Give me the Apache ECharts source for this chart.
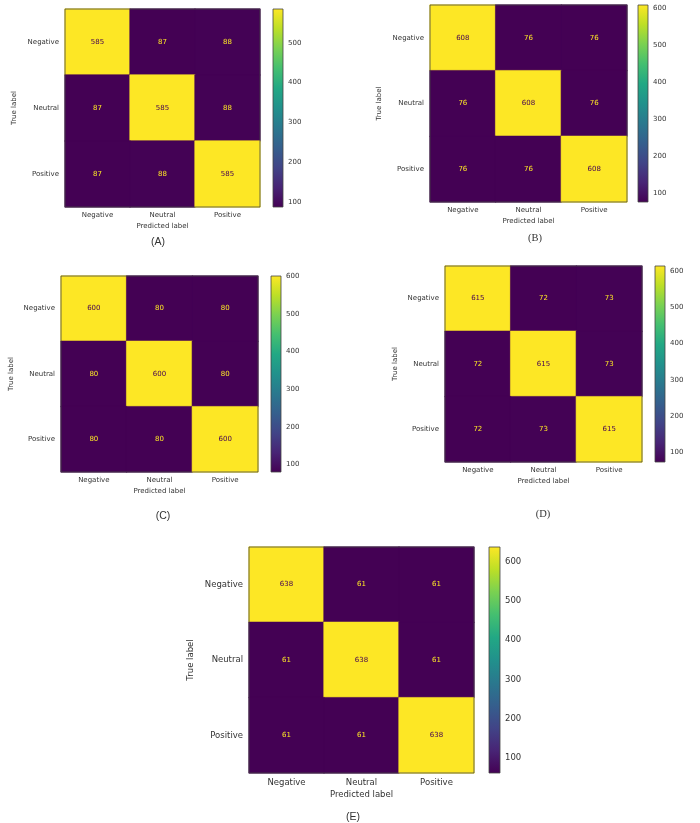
<!DOCTYPE html>
<html>
<head>
<meta charset="utf-8">
<script src="https://cdn.jsdelivr.net/npm/echarts@6/dist/echarts.min.js"></script>
<style>
html,body{margin:0;padding:0;background:#fff}
#main{width:700px;height:823px}
</style>
</head>
<body>
<div id="main"></div>
<script>
// class labels (rows = true, columns = predicted)
const classes = ['Negative', 'Neutral', 'Positive']

// confusion matrices, row = true label
const matA = [[585, 87, 88], [87, 585, 88], [87, 88, 585]]
const matB = [[608, 76, 76], [76, 608, 76], [76, 76, 608]]
const matC = [[600, 80, 80], [80, 600, 80], [80, 80, 600]]
const matD = [[615, 72, 73], [72, 615, 73], [72, 73, 615]]
const matE = [[638, 61, 61], [61, 638, 61], [61, 61, 638]]

const captions = ['(A)', '(B)', '(C)', '(D)', '(E)']

// colorbar tick labels
const ticksA = [100, 200, 300, 400, 500]
const ticksB = [100, 200, 300, 400, 500, 600]
const ticksC = [100, 200, 300, 400, 500, 600]
const ticksD = [100, 200, 300, 400, 500, 600]
const ticksE = [100, 200, 300, 400, 500, 600]

const mats = [matA, matB, matC, matD, matE]
const ticks = [ticksA, ticksB, ticksC, ticksD, ticksE]

// layout of each panel (pixels)
const layout = [
  {x: 65, y: 9, w: 195, h: 198, cbx: 273, cbw: 10, font: 7, num: 7, cap: [158, 243], capFont: 'Liberation Sans', yGap: 47},
  {x: 430, y: 5, w: 197, h: 197, cbx: 638, cbw: 10, font: 7, num: 7, cap: [535, 239], capFont: 'Liberation Serif', yGap: 47},
  {x: 61, y: 276, w: 197, h: 196, cbx: 271, cbw: 10, font: 7, num: 7, cap: [163, 517], capFont: 'Liberation Sans', yGap: 46},
  {x: 445, y: 266, w: 197, h: 196, cbx: 655, cbw: 10, font: 7, num: 7, cap: [543, 515], capFont: 'Liberation Serif', yGap: 46},
  {x: 249, y: 547, w: 225, h: 226, cbx: 489, cbw: 11, font: 8.5, num: 7, cap: [353, 818], capFont: 'Liberation Sans', yGap: 54}
]

const viridis = ['#440154', '#482475', '#414487', '#355f8d', '#2a788e', '#21918c',
  '#22a884', '#44bf70', '#7ad151', '#bddf26', '#fde725']
const txt = '#333'
const ff = 'DejaVu Sans'

let grid = [], xAxis = [], yAxis = [], series = [], visualMap = [], title = []

mats.forEach((m, i) => {
  const L = layout[i]
  const flat = [].concat(...m)
  const vmin = Math.min(...flat), vmax = Math.max(...flat)
  const mid = (vmin + vmax) / 2

  grid.push({left: L.x, top: L.y, width: L.w, height: L.h, show: true, backgroundColor: viridis[0], borderWidth: 0})
  grid.push({left: L.cbx, top: L.y, width: L.cbw, height: L.h})

  xAxis.push({
    type: 'category', data: classes, gridIndex: 2 * i,
    name: 'Predicted label', nameLocation: 'middle', nameGap: L.font + 9,
    nameTextStyle: {fontSize: L.font, color: txt, fontFamily: ff},
    axisLine: {show: false},
    axisTick: {alignWithLabel: true, length: 3, lineStyle: {color: txt}},
    axisLabel: {fontSize: L.font, color: txt, fontFamily: ff, margin: 5},
    splitLine: {show: false}
  })
  xAxis.push({type: 'value', gridIndex: 2 * i + 1, min: 0, max: 1, show: false})

  yAxis.push({
    type: 'category', data: classes, gridIndex: 2 * i, inverse: true,
    name: 'True label', nameLocation: 'middle', nameGap: L.yGap, nameRotate: 90,
    nameTextStyle: {fontSize: L.font, color: txt, fontFamily: ff},
    axisLine: {show: false},
    axisTick: {alignWithLabel: true, length: 3, lineStyle: {color: txt}},
    axisLabel: {fontSize: L.font, color: txt, fontFamily: ff, margin: 6},
    splitLine: {show: false}
  })
  yAxis.push({
    type: 'value', gridIndex: 2 * i + 1, position: 'right', min: vmin, max: vmax,
    axisLine: {show: false},
    axisTick: {show: true, length: 3, customValues: ticks[i], lineStyle: {color: txt}},
    axisLabel: {fontSize: L.font, color: txt, fontFamily: ff, margin: 5, customValues: ticks[i]},
    splitLine: {show: false}
  })

  const data = []
  m.forEach((row, r) => row.forEach((v, c) => {
    // border in the cell's own colour closes the antialias seams
    const col = echarts.color.lerp((v - vmin) / (vmax - vmin), viridis)
    data.push({
      value: [c, r, v],
      label: {color: v < mid ? viridis[10] : viridis[0]},
      itemStyle: {borderColor: col, borderWidth: 0.6}
    })
  }))

  visualMap.push({
    show: false, type: 'continuous', min: vmin, max: vmax, dimension: 2,
    seriesIndex: series.length, inRange: {color: viridis}
  })
  series.push({
    type: 'heatmap', xAxisIndex: 2 * i, yAxisIndex: 2 * i, data: data,
    label: {show: true, fontSize: L.num, fontFamily: ff},
    emphasis: {disabled: true}
  })
  // axes frame
  series.push({
    type: 'custom', xAxisIndex: 2 * i, yAxisIndex: 2 * i, data: [[0, 0]], z: 5, silent: true,
    renderItem: (params, api) => {
      const cs = params.coordSys
      return {type: 'rect', shape: {x: cs.x, y: cs.y, width: cs.width, height: cs.height},
        style: {fill: 'none', stroke: '#444', lineWidth: 0.8}}
    }
  })
  // colorbar
  series.push({
    type: 'custom', xAxisIndex: 2 * i + 1, yAxisIndex: 2 * i + 1, data: [[vmin, vmax]], silent: true,
    renderItem: (params, api) => {
      const cs = params.coordSys
      const top = api.coord([0, api.value(1)])[1]
      const bot = api.coord([0, api.value(0)])[1]
      const stops = viridis.slice().reverse().map((c, k) => ({offset: k / 10, color: c}))
      return {type: 'rect', shape: {x: cs.x, y: top, width: cs.width, height: bot - top},
        style: {fill: new echarts.graphic.LinearGradient(0, 0, 0, 1, stops), stroke: '#444', lineWidth: 0.8}}
    }
  })

  title.push({
    text: captions[i], left: L.cap[0], top: L.cap[1] - 6, textAlign: 'center', padding: 0,
    textStyle: {fontSize: 10.5, fontWeight: 'normal', color: txt, fontFamily: L.capFont}
  })
})

const chart = echarts.init(document.getElementById('main'), null, {renderer: 'canvas'})
chart.setOption({
  animation: false,
  backgroundColor: '#fff',
  title, grid, xAxis, yAxis, visualMap, series
})
</script>
</body>
</html>
